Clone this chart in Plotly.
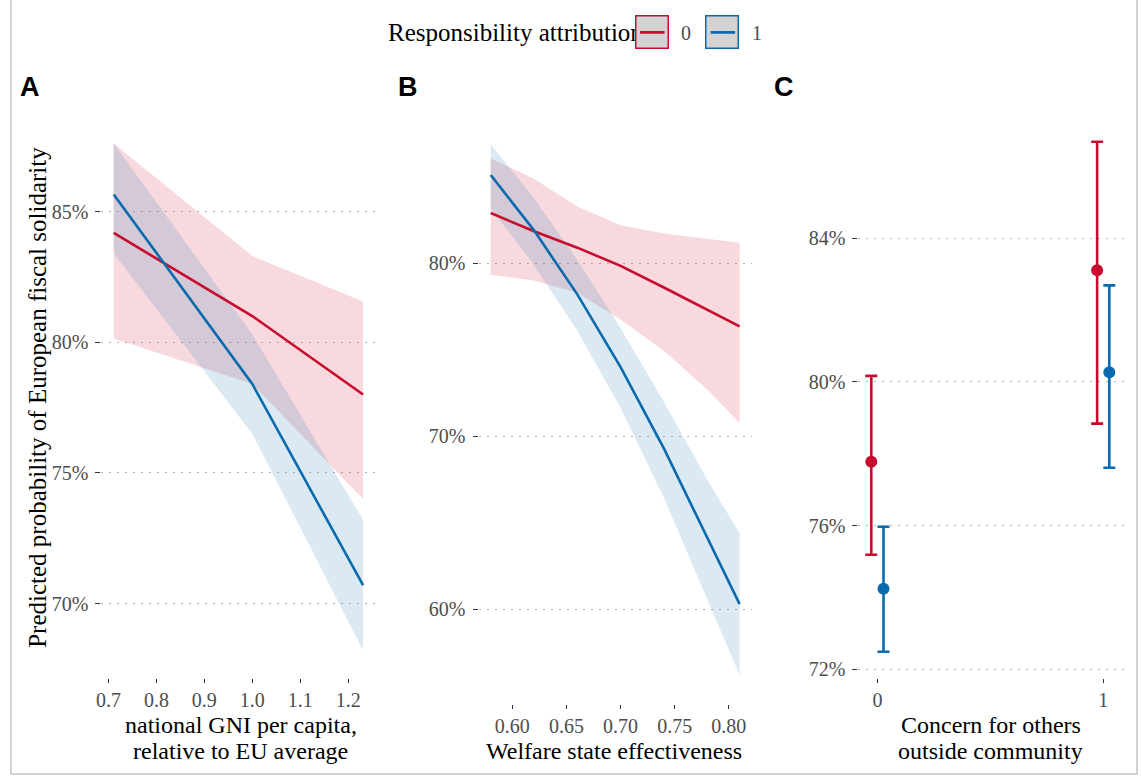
import plotly.graph_objects as go

# ---------------- data ----------------
# Panel A: national GNI per capita relative to EU average
gni_x = [0.711, 1.0, 1.231]
gni_pred_0 = [84.18, 81.0, 78.0]
gni_lo_0 = [80.14, 78.4, 74.0]
gni_hi_0 = [87.6, 83.3, 81.56]
gni_pred_1 = [85.65, 78.4, 70.7]
gni_lo_1 = [83.4, 76.5, 68.2]
gni_hi_1 = [87.6, 80.3, 73.2]

# Panel B: welfare state effectiveness
wel_x = [0.58, 0.62, 0.66, 0.70, 0.74, 0.78, 0.81]
wel_pred_0 = [82.90, 81.85, 80.9, 79.85, 78.6, 77.3, 76.35]
wel_lo_0 = [79.34, 79.0, 78.3, 76.75, 74.95, 72.7, 70.77]
wel_hi_0 = [86.05, 84.88, 83.28, 82.2, 81.72, 81.44, 81.19]
wel_pred_1 = [85.1, 81.9, 78.2, 74.0, 69.3, 64.2, 60.3]
wel_lo_1 = [83.18, 79.9, 76.1, 71.63, 66.46, 60.6, 56.2]
wel_hi_1 = [86.87, 83.76, 80.19, 76.24, 72.0, 67.5, 64.4]

# Panel C: concern for others outside community
con_x = [0, 1]
con_pred_0 = [77.78, 83.11]
con_lo_0 = [75.19, 78.84]
con_hi_0 = [80.17, 86.69]
con_pred_1 = [74.24, 80.27]
con_lo_1 = [72.49, 77.61]
con_hi_1 = [75.97, 82.69]

groups = ["0", "1"]

# tick labels
a_xticks = [0.7, 0.8, 0.9, 1.0, 1.1, 1.2]
a_xlabels = ["0.7", "0.8", "0.9", "1.0", "1.1", "1.2"]
a_yticks = [70, 75, 80, 85]
b_xticks = [0.60, 0.65, 0.70, 0.75, 0.80]
b_xlabels = ["0.60", "0.65", "0.70", "0.75", "0.80"]
b_yticks = [60, 70, 80]
c_xticks = [0, 1]
c_xlabels = ["0", "1"]
c_yticks = [72, 76, 80, 84]

legend_title = "Responsibility attribution"
y_title = "Predicted probability of European fiscal solidarity"
a_title = ["national GNI per capita,", "relative to EU average"]
b_title = ["Welfare state effectiveness"]
c_title = ["Concern for others", "outside community"]

# ---------------- style ----------------
W, H = 1141, 780
RED = "#C80C2E"
BLUE = "#0A6AAE"
RED_FILL = "rgba(210,30,60,0.17)"
BLUE_FILL = "rgba(30,120,180,0.16)"
SERIF = "Liberation Serif, Times New Roman, serif"
SANS = "Liberation Sans, Arial, sans-serif"
TICKCOL = "#4D4D4D"


def px(p):
    return p / W


def py(p):
    return 1 - p / H


fig = go.Figure()


def ribbon(xs, lo, hi, color, xa, ya):
    fig.add_trace(go.Scatter(
        x=list(xs) + list(xs)[::-1], y=list(hi) + list(lo)[::-1],
        fill="toself", fillcolor=color, line=dict(width=0),
        mode="lines", hoverinfo="skip", showlegend=False,
        xaxis=xa, yaxis=ya))


def line(xs, ys, color, name, xa, ya):
    fig.add_trace(go.Scatter(
        x=xs, y=ys, mode="lines", line=dict(color=color, width=2.6),
        name=name, showlegend=False, xaxis=xa, yaxis=ya))


# Panel A
ribbon(gni_x, gni_lo_0, gni_hi_0, RED_FILL, "x", "y")
ribbon(gni_x, gni_lo_1, gni_hi_1, BLUE_FILL, "x", "y")
line(gni_x, gni_pred_0, RED, groups[0], "x", "y")
line(gni_x, gni_pred_1, BLUE, groups[1], "x", "y")

# Panel B
ribbon(wel_x, wel_lo_0, wel_hi_0, RED_FILL, "x2", "y2")
ribbon(wel_x, wel_lo_1, wel_hi_1, BLUE_FILL, "x2", "y2")
line(wel_x, wel_pred_0, RED, groups[0], "x2", "y2")
line(wel_x, wel_pred_1, BLUE, groups[1], "x2", "y2")

# Panel C
dodge = 0.027
for pred, lo, hi, col, off, name in [
    (con_pred_0, con_lo_0, con_hi_0, RED, -dodge, groups[0]),
    (con_pred_1, con_lo_1, con_hi_1, BLUE, dodge, groups[1]),
]:
    fig.add_trace(go.Scatter(
        x=[v + off for v in con_x], y=pred, mode="markers",
        marker=dict(color=col, size=12),
        error_y=dict(type="data", symmetric=False,
                     array=[h - p for h, p in zip(hi, pred)],
                     arrayminus=[p - l for p, l in zip(pred, lo)],
                     color=col, thickness=2.6, width=6),
        name=name, showlegend=False, xaxis="x3", yaxis="y3"))

tickfont = dict(family=SERIF, size=20, color=TICKCOL)
common_x = dict(ticks="outside", ticklen=4, tickwidth=1.2, tickcolor="#333333",
                showgrid=False, zeroline=False, showline=False,
                tickfont=tickfont, fixedrange=True)
common_y = dict(ticks="outside", ticklen=5, tickwidth=1.2, tickcolor="#333333",
                showgrid=True, gridcolor="#B4B4B4", gridwidth=1.1,
                griddash="2px,6px", zeroline=False, showline=False,
                ticklabelstandoff=3,
                tickfont=tickfont, fixedrange=True)

fig.update_layout(
    width=W, height=H,
    margin=dict(l=0, r=0, t=0, b=0),
    paper_bgcolor="white", plot_bgcolor="white",
    showlegend=False,
    xaxis=dict(domain=[px(96), px(371)], range=[0.6855, 1.256], anchor="y",
               tickvals=a_xticks, ticktext=a_xlabels, **common_x),
    yaxis=dict(domain=[py(680), py(118)], range=[67.14, 88.59], anchor="x",
               tickvals=a_yticks, ticktext=[f"{v}%" for v in a_yticks], **common_y),
    xaxis2=dict(domain=[px(475), px(750)], range=[0.5687, 0.8215], anchor="y2",
                tickvals=b_xticks, ticktext=b_xlabels, **common_x),
    yaxis2=dict(domain=[py(706), py(118)], range=[54.52, 88.41], anchor="x2",
                tickvals=b_yticks, ticktext=[f"{v}%" for v in b_yticks], **common_y),
    xaxis3=dict(domain=[px(857), px(1128)], range=[-0.0837, 1.11], anchor="y3",
                tickvals=c_xticks, ticktext=c_xlabels, **common_x),
    yaxis3=dict(domain=[py(680), py(118)], range=[71.75, 87.36], anchor="x3",
                tickvals=c_yticks, ticktext=[f"{v}%" for v in c_yticks], **common_y),
)

ann = []
title_font = dict(family=SERIF, size=24, color="black")
# axis titles
ann.append(dict(text=y_title, x=px(32), y=py(398), textangle=-90,
                font=dict(family=SERIF, size=25, color="black")))
for lines, cx in [(a_title, 236), (c_title, 990)]:
    for i, t in enumerate(lines):
        ann.append(dict(text=t, x=px(cx), y=py(727 + 26 * i), font=title_font))
ann.append(dict(text=b_title[0], x=px(611), y=py(753), font=title_font))
# panel tags
for t, xx in [("A", 24), ("B", 404), ("C", 782)]:
    ann.append(dict(text=f"<b>{t}</b>", x=px(xx), y=py(87),
                    font=dict(family=SANS, size=27, color="black")))
# legend
ann.append(dict(text=legend_title, x=px(382), y=py(33), xanchor="left",
                font=dict(family=SERIF, size=25, color="black")))
for col, cx, lab, lx in [(RED, 649, groups[0], 684), (BLUE, 720, groups[1], 755)]:
    ann.append(dict(text="", x=px(cx), y=py(32.5), width=31, height=31,
                    bgcolor="#D3D3D3", bordercolor=col, borderwidth=1.5, borderpad=0))
    ann.append(dict(text="", x=px(cx + 13), y=py(32.5), ax=-26, ay=0,
                    showarrow=True, arrowhead=0, arrowwidth=2.8, arrowcolor=col,
                    standoff=0, startstandoff=0))
    ann.append(dict(text=lab, x=px(lx), y=py(33),
                    font=dict(family=SERIF, size=20, color=TICKCOL)))

for a in ann:
    a.setdefault("xref", "paper")
    a.setdefault("yref", "paper")
    a.setdefault("showarrow", False)
    a.setdefault("xanchor", "center")
    a.setdefault("yanchor", "middle")
fig.update_layout(annotations=ann)

# outer frame
fig.add_shape(type="rect", xref="paper", yref="paper",
              x0=px(5), x1=px(1137), y0=py(776), y1=py(-3),
              line=dict(color="#C4C4C4", width=1.5), fillcolor="rgba(0,0,0,0)",
              layer="above")

fig.write_html("out.html", config={"displayModeBar": False},
               post_script="document.body.style.margin='0px';document.body.style.overflow='hidden';")
